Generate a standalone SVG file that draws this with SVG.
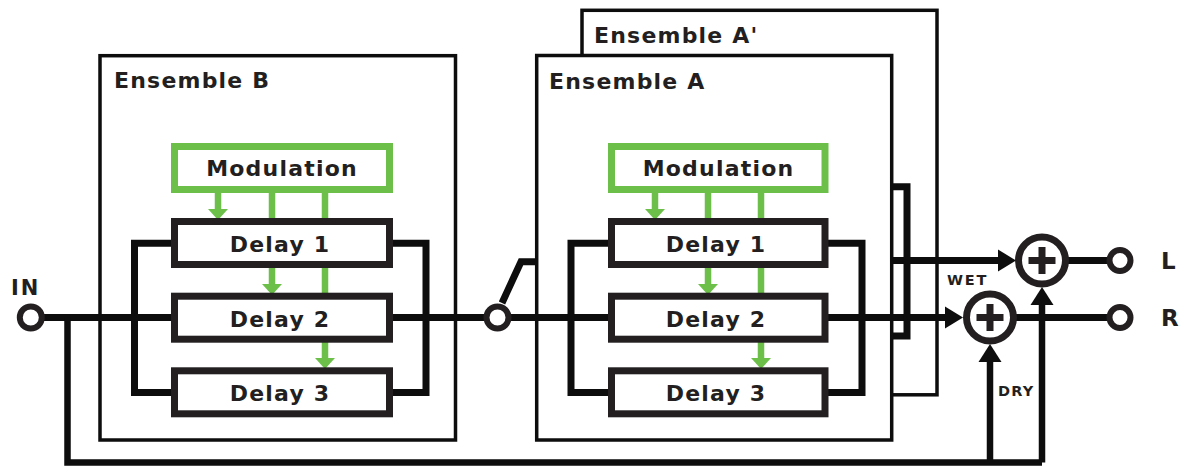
<svg xmlns="http://www.w3.org/2000/svg" width="1182" height="468" viewBox="0 0 1182 468">
<style>
.t{font-family:"DejaVu Sans","Verdana",sans-serif;font-weight:bold;fill:#231f20;letter-spacing:1.2px}
.lbl{font-size:22px}
.ens{fill:#fff;stroke:#0d0d0d;stroke-width:3.5}
.dly{fill:#fff;stroke:#231f20;stroke-width:7}
.mod{fill:#fff;stroke:#6cc04a;stroke-width:7}
.g{stroke:#6cc04a;stroke-width:6.5;fill:none}
.ga{fill:#6cc04a}
.w{stroke:#0d0d0d;stroke-width:7;fill:none;stroke-linejoin:miter}
.wd{stroke:#0d0d0d;stroke-width:6.5;fill:none}
.ah{fill:#0d0d0d}
.port{fill:#fff;stroke:#231f20;stroke-width:6}
.sum{fill:#fff;stroke:#231f20;stroke-width:7}
.plus{stroke:#231f20;stroke-width:7}
</style>

<!-- Ensemble containers -->
<g id="ensemble-a-prime">
<rect class="ens" x="582" y="10.3" width="355" height="384.5"/>
<text class="t lbl" x="594" y="43.3">Ensemble A'</text>
</g>
<g id="ensemble-a">
<rect class="ens" x="536.7" y="55.5" width="355" height="384.5"/>
<text class="t lbl" x="549" y="89.3">Ensemble A</text>
</g>
<g id="ensemble-b">
<rect class="ens" x="100" y="55.7" width="355.5" height="384.3"/>
<text class="t lbl" x="114" y="88.3">Ensemble B</text>
</g>

<!-- Connectors -->
<g id="connectors">
<!-- green modulation lines B -->
<path class="g" d="M218 193V210M272 193V285M325 193V359"/>
<polygon class="ga" points="208,209 228,209 218,220"/>
<polygon class="ga" points="262,284 282,284 272,295"/>
<polygon class="ga" points="315,358 335,358 325,369"/>
<!-- green modulation lines A -->
<path class="g" d="M655 193V210M708 193V285M761 193V359"/>
<polygon class="ga" points="645,209 665,209 655,220"/>
<polygon class="ga" points="698,284 718,284 708,295"/>
<polygon class="ga" points="751,358 771,358 761,369"/>

<!-- input line -->
<path class="w" d="M44 317.5H172"/>
<!-- dry branch -->
<path class="wd" d="M67.5 317.5V462.5H1042M990 462.5V360M1042 462.5V303"/>
<polygon class="ah" points="978.5,362 1001.5,362 990,344"/>
<polygon class="ah" points="1030.5,305 1053.5,305 1042,287"/>
<!-- B brackets -->
<path class="w" d="M172 243.3H134.5V392.5H172M392 243.3H426V392.5H392"/>
<!-- B output to switch -->
<path class="w" d="M392 317.5H484"/>
<!-- switch -->
<path class="w" d="M502 303L521 261.7H537"/>
<!-- switch to A -->
<path class="w" d="M511 317.5H609"/>
<!-- A brackets -->
<path class="w" d="M609 243.3H571V392.5H609M827 243.3H862V392.5H827"/>
<!-- A output (wet R) -->
<path class="w" d="M827 317.5H947"/>
<polygon class="ah" points="945,306.5 945,328.5 963,317.5"/>
<!-- A' bracket -->
<path class="w" d="M892 186.7H907V336H892"/>
<!-- A' output (wet L) -->
<path class="w" d="M893 260.5H1000"/>
<polygon class="ah" points="998,249.5 998,271.5 1016,260.5"/>
<!-- outputs -->
<path class="w" d="M1066 260.5H1108M1014 317.5H1108"/>
</g>

<!-- Ensemble B inner nodes -->
<g id="b-modulation">
<rect class="mod" x="174.5" y="146.5" width="215" height="43"/>
<text class="t lbl" x="282" y="176" text-anchor="middle">Modulation</text>
</g>
<g id="b-delay1">
<rect class="dly" x="174.5" y="221.5" width="215" height="43"/>
<text class="t lbl" x="280" y="251.7" text-anchor="middle">Delay 1</text>
</g>
<g id="b-delay2">
<rect class="dly" x="174.5" y="296.2" width="215" height="43"/>
<text class="t lbl" x="280" y="326.7" text-anchor="middle">Delay 2</text>
</g>
<g id="b-delay3">
<rect class="dly" x="174.5" y="370.8" width="215" height="43"/>
<text class="t lbl" x="280" y="401" text-anchor="middle">Delay 3</text>
</g>

<!-- Ensemble A inner nodes -->
<g id="a-modulation">
<rect class="mod" x="611.5" y="146.5" width="213.5" height="43"/>
<text class="t lbl" x="718.5" y="176" text-anchor="middle">Modulation</text>
</g>
<g id="a-delay1">
<rect class="dly" x="611.5" y="221.5" width="213.5" height="43"/>
<text class="t lbl" x="716" y="251.7" text-anchor="middle">Delay 1</text>
</g>
<g id="a-delay2">
<rect class="dly" x="611.5" y="296.2" width="213.5" height="43"/>
<text class="t lbl" x="716" y="326.7" text-anchor="middle">Delay 2</text>
</g>
<g id="a-delay3">
<rect class="dly" x="611.5" y="370.8" width="213.5" height="43"/>
<text class="t lbl" x="716" y="401" text-anchor="middle">Delay 3</text>
</g>

<!-- Ports and summers -->
<g id="in-port">
<circle class="port" cx="30.8" cy="317.5" r="11"/>
<text class="t" x="11" y="295" style="font-size:21px;letter-spacing:2px">IN</text>
</g>
<g id="switch">
<circle class="port" cx="497.5" cy="317.5" r="11"/>
</g>
<g id="sum-l">
<circle class="sum" cx="1042" cy="260.5" r="23.5"/>
<path class="plus" d="M1028.5 260.5H1055.5M1042 247V274"/>
</g>
<g id="sum-r">
<circle class="sum" cx="990" cy="317.5" r="23.5"/>
<path class="plus" d="M976.5 317.5H1003.5M990 304V331"/>
</g>
<g id="out-l">
<circle class="port" cx="1120" cy="260.5" r="10.5"/>
<text class="t" x="1161" y="269" style="font-size:23px">L</text>
</g>
<g id="out-r">
<circle class="port" cx="1120" cy="317.5" r="10.5"/>
<text class="t" x="1161" y="325.5" style="font-size:23px">R</text>
</g>
<g id="labels">
<text class="t" x="947" y="285" style="font-size:14.5px;letter-spacing:1.8px">WET</text>
<text class="t" x="998" y="396" style="font-size:14.5px;letter-spacing:1.2px">DRY</text>
</g>
</svg>
